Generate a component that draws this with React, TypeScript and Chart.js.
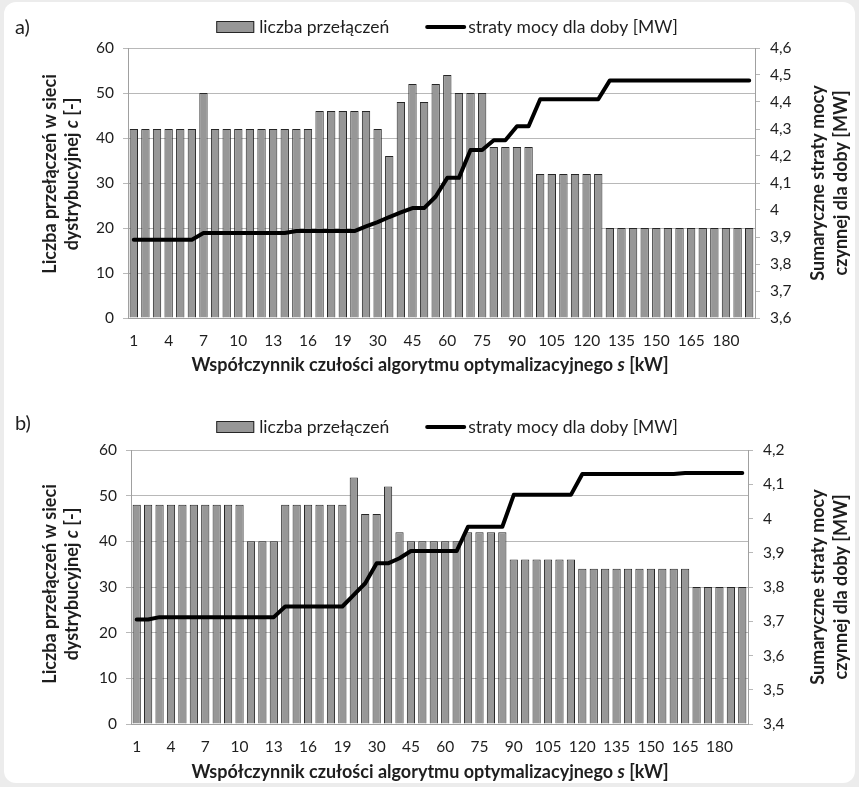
import React, { useEffect, useRef } from 'react';
import { Chart, registerables } from 'chart.js';

Chart.register(...registerables);

// ---------- data ----------
const categories = ['1','2','3','4','5','6','7','8','9','10','11','12','13','14','15','16','17','18','19','20','25','30','35','40','45','50','55','60','65','70','75','80','85','90','95','100','105','110','115','120','125','130','135','140','145','150','155','160','165','170','175','180','185','190'];

const switchesA = [42,42,42,42,42,42,50,42,42,42,42,42,42,42,42,42,46,46,46,46,46,42,36,48,52,48,52,54,50,50,50,38,38,38,38,32,32,32,32,32,32,20,20,20,20,20,20,20,20,20,20,20,20,20];
const lossesA = [3.89,3.89,3.89,3.89,3.89,3.89,3.915,3.915,3.915,3.915,3.915,3.915,3.915,3.915,3.922,3.922,3.922,3.922,3.922,3.922,3.939,3.955,3.974,3.991,4.007,4.007,4.05,4.119,4.119,4.222,4.222,4.258,4.258,4.31,4.31,4.41,4.41,4.41,4.41,4.41,4.41,4.48,4.48,4.48,4.48,4.48,4.48,4.48,4.48,4.48,4.48,4.48,4.48,4.48];

const switchesB = [48,48,48,48,48,48,48,48,48,48,40,40,40,48,48,48,48,48,48,54,46,46,52,42,40,40,40,40,40,42,42,42,42,36,36,36,36,36,36,34,34,34,34,34,34,34,34,34,34,30,30,30,30,30];
const lossesB = [3.705,3.705,3.712,3.712,3.712,3.712,3.712,3.712,3.712,3.712,3.712,3.712,3.712,3.743,3.743,3.743,3.743,3.743,3.743,3.777,3.811,3.869,3.869,3.884,3.905,3.905,3.905,3.905,3.905,3.976,3.976,3.976,3.976,4.069,4.069,4.069,4.069,4.069,4.069,4.13,4.13,4.13,4.13,4.13,4.13,4.13,4.13,4.13,4.133,4.133,4.133,4.133,4.133,4.133];

const leftTicks = [0, 10, 20, 30, 40, 50, 60];
const rightTicksA = [3.6, 3.7, 3.8, 3.9, 4.0, 4.1, 4.2, 4.3, 4.4, 4.5, 4.6];
const rightTicksB = [3.4, 3.5, 3.6, 3.7, 3.8, 3.9, 4.0, 4.1, 4.2];

const barLabel = 'liczba przełączeń';
const lineLabel = 'straty mocy dla doby [MW]';

// ---------- styles ----------
const FONT = 'Lato, "Open Sans", sans-serif';
const TEXT = '#1e1e1e';
const BAR_FILL = '#979797';
const BAR_EDGE = '#262626';
const GRID = '#b8b8b8';
const AXIS = '#a0a0a0';
const W = 859;

type Seg = [string, boolean];

function drawRich(ctx: CanvasRenderingContext2D, segs: Seg[], cx: number, cy: number, angle: number, size: number) {
  ctx.save();
  ctx.translate(cx, cy);
  ctx.rotate(angle);
  ctx.textBaseline = 'middle';
  ctx.textAlign = 'left';
  ctx.fillStyle = TEXT;
  const fontOf = (it: boolean) => `${it ? 'italic ' : ''}bold ${size}px ${FONT}`;
  let total = 0;
  const widths = segs.map(([t, it]) => { ctx.font = fontOf(it); const w = ctx.measureText(t).width; total += w; return w; });
  let x = -total / 2;
  segs.forEach(([t, it], i) => { ctx.font = fontOf(it); ctx.fillText(t, x, 0); x += widths[i]; });
  ctx.restore();
}

const decorPlugin = {
  id: 'decor',
  afterDraw(chart: any, _args: any, opts: any) {
    const ctx: CanvasRenderingContext2D = chart.ctx;
    const area = chart.chartArea;
    ctx.save();
    // panel tag
    ctx.fillStyle = TEXT;
    ctx.font = `20px ${FONT}`;
    ctx.textBaseline = 'middle';
    ctx.textAlign = 'left';
    ctx.fillText(opts.tag, 15, opts.tagY);

    // legend
    const ds = chart.data.datasets;
    const barDs = ds[0];
    const lineDs = ds[1];
    ctx.font = `17.5px ${FONT}`;
    const w1 = ctx.measureText(barDs.label).width;
    const w2 = ctx.measureText(lineDs.label).width;
    const boxW = 38, gap1 = 5, itemGap = 36, lineW = 41, gap2 = 2;
    const total = boxW + gap1 + w1 + itemGap + lineW + gap2 + w2;
    let x = opts.legendCX - total / 2;
    const y = opts.legendY;
    ctx.fillStyle = barDs.backgroundColor;
    ctx.fillRect(x, y - 5.5, boxW, 11);
    ctx.strokeStyle = barDs.borderColor;
    ctx.lineWidth = 1;
    ctx.strokeRect(x + 0.5, y - 5.5, boxW - 1, 11);
    x += boxW + gap1;
    ctx.fillStyle = TEXT;
    ctx.fillText(barDs.label, x, y);
    x += w1 + itemGap;
    ctx.strokeStyle = lineDs.borderColor;
    ctx.lineWidth = 4;
    ctx.lineCap = 'round';
    ctx.beginPath();
    ctx.moveTo(x + 2, y);
    ctx.lineTo(x + lineW - 2, y);
    ctx.stroke();
    x += lineW + gap2;
    ctx.fillText(lineDs.label, x, y);

    // axis titles
    const ts = 18;
    drawRich(ctx, [['Współczynnik czułości algorytmu optymalizacyjnego ', false], ['s', true], [' [kW]', false]], opts.xTitleX, opts.xTitleY, 0, ts);
    const lcy = (area.top + area.bottom) / 2 + opts.leftShift;
    drawRich(ctx, [['Liczba przełączeń w sieci', false]], opts.leftX[0], lcy, -Math.PI / 2, ts);
    drawRich(ctx, [['dystrybucyjnej ', false], ['c', true], [' [-]', false]], opts.leftX[1], lcy, -Math.PI / 2, ts);
    const rcy = (area.top + area.bottom) / 2;
    drawRich(ctx, [['Sumaryczne straty mocy', false]], opts.rightX[0], rcy, -Math.PI / 2, ts);
    drawRich(ctx, [['czynnej dla doby [MW]', false]], opts.rightX[1], rcy, -Math.PI / 2, ts);
    ctx.restore();
  },
};

interface PanelProps {
  tag: string;
  top: number;
  height: number;
  plot: { l: number; t: number; r: number; b: number };
  bars: number[];
  line: number[];
  rightTicks: number[];
  legendY: number;
  tagY: number;
  xTitleY: number;
  leftShift: number;
}

const fmt = (v: number) => String(Math.round(v * 10) / 10).replace('.', ',');

function Panel(p: PanelProps) {
  const ref = useRef<HTMLCanvasElement>(null);
  useEffect(() => {
    if (!ref.current) return;
    const H = p.height;
    const fixY = (width: number) => (scale: any) => {
      scale.width = width;
      scale.paddingTop = 0; scale.paddingBottom = 0; scale.paddingLeft = 0; scale.paddingRight = 0;
    };
    const chart = new Chart(ref.current, {
      type: 'bar',
      data: {
        labels: categories,
        datasets: [
          {
            type: 'bar',
            label: barLabel,
            data: p.bars,
            backgroundColor: BAR_FILL,
            borderColor: BAR_EDGE,
            borderWidth: 1,
            categoryPercentage: 1,
            barPercentage: 0.72,
            yAxisID: 'y',
            order: 1,
          },
          {
            type: 'line',
            label: lineLabel,
            data: p.line,
            borderColor: '#000000',
            backgroundColor: '#000000',
            borderWidth: 4,
            pointRadius: 0,
            tension: 0,
            borderJoinStyle: 'round',
            borderCapStyle: 'round',
            yAxisID: 'y1',
            order: 0,
          },
        ] as any,
      },
      options: {
        responsive: false,
        animation: false,
        layout: { padding: { top: p.plot.t, left: 0, right: 0, bottom: 0 } },
        plugins: {
          legend: { display: false },
          tooltip: { enabled: false },
          decor: {
            tag: p.tag,
            tagY: p.tagY,
            legendY: p.legendY,
            legendCX: 447,
            xTitleX: 430,
            xTitleY: p.xTitleY,
            leftX: [50, 72],
            rightX: [818, 841],
            leftShift: p.leftShift,
          },
        } as any,
        scales: {
          x: {
            offset: true,
            grid: { display: false, drawTicks: false },
            border: { display: true, color: AXIS, width: 1 },
            ticks: {
              autoSkip: false,
              maxRotation: 0,
              minRotation: 0,
              padding: 14,
              color: TEXT,
              font: { family: FONT, size: 15.5 },
              callback: (_v: any, i: number) => (i % 3 === 0 ? categories[i] : ''),
            },
            afterFit: (scale: any) => {
              scale.height = H - p.plot.b;
              scale.paddingLeft = 0; scale.paddingRight = 0; scale.paddingTop = 0; scale.paddingBottom = 0;
            },
          },
          y: {
            position: 'left',
            min: leftTicks[0],
            max: leftTicks[leftTicks.length - 1],
            afterBuildTicks: (scale: any) => { scale.ticks = leftTicks.map((v) => ({ value: v })); },
            grid: { color: GRID, lineWidth: 1, drawTicks: true, tickLength: 5, tickColor: GRID },
            border: { display: true, color: AXIS, width: 1 },
            ticks: { padding: 9, color: TEXT, font: { family: FONT, size: 15.5 } },
            afterFit: fixY(p.plot.l),
          },
          y1: {
            position: 'right',
            min: p.rightTicks[0],
            max: p.rightTicks[p.rightTicks.length - 1],
            afterBuildTicks: (scale: any) => { scale.ticks = p.rightTicks.map((v) => ({ value: v })); },
            grid: { drawOnChartArea: false, drawTicks: true, tickLength: 5, tickColor: GRID, color: GRID },
            border: { display: true, color: AXIS, width: 1 },
            ticks: { padding: 10, color: TEXT, font: { family: FONT, size: 15.5 }, callback: (v: any) => fmt(Number(v)) },
            afterFit: fixY(W - p.plot.r),
          },
        },
      } as any,
      plugins: [decorPlugin as any],
    });
    return () => chart.destroy();
  }, []);
  return (
    <canvas
      ref={ref}
      width={W}
      height={p.height}
      style={{ position: 'absolute', left: 0, top: p.top, width: W, height: p.height }}
    />
  );
}

export default function App() {
  return (
    <div style={{ position: 'absolute', left: 0, top: 0, width: W, height: 787, background: '#ececec', overflow: 'hidden' }}>
      <div style={{ position: 'absolute', left: 4, top: 2, width: 851, height: 781, background: '#ffffff', borderRadius: 12 }} />
      <Panel
        tag="a)"
        top={0}
        height={392}
        plot={{ l: 128, t: 48, r: 755, b: 318 }}
        bars={switchesA}
        line={lossesA}
        rightTicks={rightTicksA}
        legendY={27}
        tagY={28}
        xTitleY={365}
        leftShift={-9}
      />
      <Panel
        tag="b)"
        top={392}
        height={395}
        plot={{ l: 131, t: 58, r: 748, b: 332 }}
        bars={switchesB}
        line={lossesB}
        rightTicks={rightTicksB}
        legendY={35}
        tagY={32}
        xTitleY={380}
        leftShift={-3}
      />
    </div>
  );
}
